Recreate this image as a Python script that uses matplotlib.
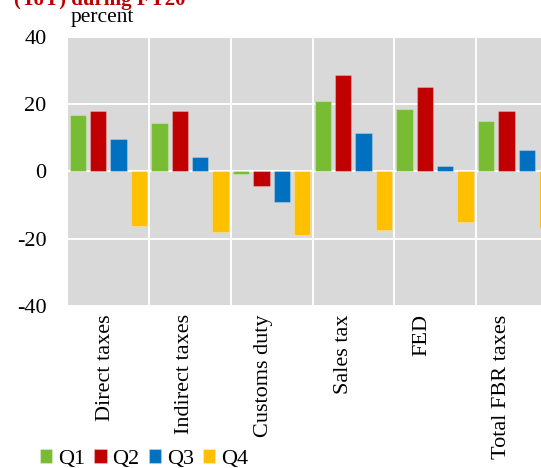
import matplotlib.pyplot as plt
import numpy as np

plt.rcParams['font.family'] = ['Liberation Serif', 'DejaVu Serif']

# Growth of FBR tax collection by quarter (percent, YoY)
categories = ['Direct taxes', 'Indirect taxes', 'Customs duty', 'Sales tax', 'FED', 'Total FBR taxes']
quarters = ['Q1', 'Q2', 'Q3', 'Q4']
q1 = [16.8, 14.4, -0.8, 20.8, 18.4, 15.0]
q2 = [18.0, 18.0, -4.4, 28.5, 25.0, 17.9]
q3 = [9.7, 4.3, -9.1, 11.4, 1.5, 6.3]
q4 = [-16.3, -17.9, -18.9, -17.3, -14.9, -16.7]
colors = ['#78BC33', '#C00000', '#0070C0', '#FFC000']

series = [q1, q2, q3, q4]
idx = np.arange(len(categories))
bar_width = 0.2

fig = plt.figure(figsize=(5.41, 4.68), dpi=100)
W, H = 541, 468
# plot area runs past the right edge of the page
ax = fig.add_axes([67.5 / W, 1 - 306 / H, 490 / W, (306 - 36.7) / H])
ax.set_facecolor('#D9D9D9')

for k, (vals, c) in enumerate(zip(series, colors)):
    ax.bar(idx + 0.125 + 0.25 * k, vals, bar_width, color=c,
           edgecolor=(1, 1, 1, 0.25), linewidth=0.8, label=quarters[k], zorder=3)

ax.set_xlim(0, len(categories))
ax.set_ylim(-40, 40)
ax.set_yticks([-40, -20, 0, 20, 40])
ax.set_yticklabels(['-40', '-20', '0', '20', '40'])

# category separators and horizontal grid in white
ax.set_xticks(idx[1:], minor=True)
ax.grid(True, which='minor', axis='x', color='white', linewidth=1.4, zorder=1)
ax.grid(True, which='major', axis='y', color='white', linewidth=1.4, zorder=1)
ax.set_xticks(idx * 0.97 + 0.465)
ax.set_xticklabels(categories, rotation=90, va='top', ha='center')

ax.tick_params(axis='both', which='both', length=0, labelsize=16)
ax.tick_params(axis='y', pad=15)
ax.tick_params(axis='x', pad=6)
for s in ax.spines.values():
    s.set_visible(False)

fig.text(71 / W, 1 - 22 / H, 'percent', fontsize=15.5, va='baseline', ha='left')
fig.text(14 / W, 1 - 4.5 / H, '(YoY) during FY20', fontsize=15, fontweight='bold',
         color='#C00000', va='baseline', ha='left')

fig.legend(*ax.get_legend_handles_labels(), loc='center left',
           bbox_to_anchor=(40 / W, 1 - 459 / H), ncol=4, frameon=False,
           fontsize=16, handlelength=0.55, handleheight=0.55,
           handletextpad=0.25, columnspacing=0.43, borderpad=0, borderaxespad=0)

fig.savefig('out.png', dpi=100)
